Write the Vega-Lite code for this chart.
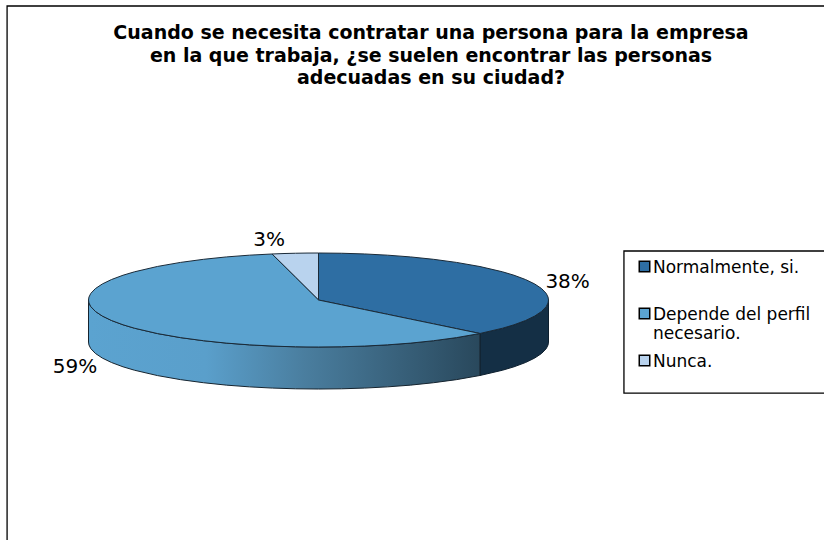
{
"$schema":"https://vega.github.io/schema/vega-lite/v6.json",
"width":824,"height":540,"padding":0,"autosize":{"type":"none"},"background":"white",
"title":{"text":["Cuando se necesita contratar una persona para la empresa","en la que trabaja, ¿se suelen encontrar las personas","adecuadas en su ciudad?"],"frame":"group","anchor":"middle","dx":19,"dy":88,"font":"DejaVu Sans","fontSize":19,"fontWeight":"bold","color":"black","lineHeight":22.5,"offset":0},
"config":{"view":{"stroke":null}},
"datasets":{
"top":[
{"part":"Normalmente, si.","u":0,"v":1,"v2":0},{"part":"Normalmente, si.","u":0.1,"v":0.995,"v2":-0.101},{"part":"Normalmente, si.","u":0.2,"v":0.98,"v2":-0.203},{"part":"Normalmente, si.","u":0.3,"v":0.954,"v2":-0.304},{"part":"Normalmente, si.","u":0.4,"v":0.917,"v2":-0.406},{"part":"Normalmente, si.","u":0.5,"v":0.866,"v2":-0.507},{"part":"Normalmente, si.","u":0.6,"v":0.8,"v2":-0.609},{"part":"Normalmente, si.","u":0.702,"v":0.712,"v2":-0.712},{"part":"Normalmente, si.","u":0.8,"v":0.6,"v2":-0.6},{"part":"Normalmente, si.","u":0.85,"v":0.527,"v2":-0.527},{"part":"Normalmente, si.","u":0.9,"v":0.436,"v2":-0.436},{"part":"Normalmente, si.","u":0.94,"v":0.341,"v2":-0.341},{"part":"Normalmente, si.","u":0.97,"v":0.243,"v2":-0.243},{"part":"Normalmente, si.","u":0.99,"v":0.141,"v2":-0.141},{"part":"Normalmente, si.","u":0.998,"v":0.063,"v2":-0.063},{"part":"Normalmente, si.","u":1,"v":0,"v2":0},
{"part":"Nunca.","u":-0.202,"v":0.979,"v2":0.979},{"part":"Nunca.","u":-0.15,"v":0.989,"v2":0.727},{"part":"Nunca.","u":-0.1,"v":0.995,"v2":0.485},{"part":"Nunca.","u":-0.05,"v":0.999,"v2":0.242},{"part":"Nunca.","u":0,"v":1,"v2":0},
{"part":"Depende del perfil necesario.","u":-1,"v":0,"v2":0},{"part":"Depende del perfil necesario.","u":-0.998,"v":0.063,"v2":-0.063},{"part":"Depende del perfil necesario.","u":-0.99,"v":0.141,"v2":-0.141},{"part":"Depende del perfil necesario.","u":-0.97,"v":0.243,"v2":-0.243},{"part":"Depende del perfil necesario.","u":-0.94,"v":0.341,"v2":-0.341},{"part":"Depende del perfil necesario.","u":-0.9,"v":0.436,"v2":-0.436},{"part":"Depende del perfil necesario.","u":-0.85,"v":0.527,"v2":-0.527},{"part":"Depende del perfil necesario.","u":-0.8,"v":0.6,"v2":-0.6},{"part":"Depende del perfil necesario.","u":-0.7,"v":0.714,"v2":-0.714},{"part":"Depende del perfil necesario.","u":-0.6,"v":0.8,"v2":-0.8},{"part":"Depende del perfil necesario.","u":-0.5,"v":0.866,"v2":-0.866},{"part":"Depende del perfil necesario.","u":-0.4,"v":0.917,"v2":-0.917},{"part":"Depende del perfil necesario.","u":-0.3,"v":0.954,"v2":-0.954},{"part":"Depende del perfil necesario.","u":-0.202,"v":0.979,"v2":-0.979},{"part":"Depende del perfil necesario.","u":-0.15,"v":0.727,"v2":-0.989},{"part":"Depende del perfil necesario.","u":-0.1,"v":0.485,"v2":-0.995},{"part":"Depende del perfil necesario.","u":-0.05,"v":0.242,"v2":-0.999},{"part":"Depende del perfil necesario.","u":0,"v":0,"v2":-1},{"part":"Depende del perfil necesario.","u":0.1,"v":-0.101,"v2":-0.995},{"part":"Depende del perfil necesario.","u":0.2,"v":-0.203,"v2":-0.98},{"part":"Depende del perfil necesario.","u":0.3,"v":-0.304,"v2":-0.954},{"part":"Depende del perfil necesario.","u":0.4,"v":-0.406,"v2":-0.917},{"part":"Depende del perfil necesario.","u":0.5,"v":-0.507,"v2":-0.866},{"part":"Depende del perfil necesario.","u":0.6,"v":-0.609,"v2":-0.8},{"part":"Depende del perfil necesario.","u":0.702,"v":-0.712,"v2":-0.712}
],
"sideMid":[
{"u":-1,"v":0,"v2":-0.894},{"u":-0.998,"v":-0.063,"v2":-0.957},{"u":-0.99,"v":-0.141,"v2":-1.035},{"u":-0.97,"v":-0.243,"v2":-1.137},{"u":-0.94,"v":-0.341,"v2":-1.235},{"u":-0.9,"v":-0.436,"v2":-1.33},{"u":-0.85,"v":-0.527,"v2":-1.421},{"u":-0.8,"v":-0.6,"v2":-1.494},{"u":-0.7,"v":-0.714,"v2":-1.608},{"u":-0.6,"v":-0.8,"v2":-1.694},{"u":-0.5,"v":-0.866,"v2":-1.76},{"u":-0.4,"v":-0.917,"v2":-1.811},{"u":-0.3,"v":-0.954,"v2":-1.848},{"u":-0.2,"v":-0.98,"v2":-1.874},{"u":-0.1,"v":-0.995,"v2":-1.889},{"u":0,"v":-1,"v2":-1.894},{"u":0.1,"v":-0.995,"v2":-1.889},{"u":0.2,"v":-0.98,"v2":-1.874},{"u":0.3,"v":-0.954,"v2":-1.848},{"u":0.4,"v":-0.917,"v2":-1.811},{"u":0.5,"v":-0.866,"v2":-1.76},{"u":0.6,"v":-0.8,"v2":-1.694},{"u":0.702,"v":-0.712,"v2":-1.606}
],
"sideDark":[
{"u":0.702,"v":-0.712,"v2":-1.606},{"u":0.8,"v":-0.6,"v2":-1.494},{"u":0.85,"v":-0.527,"v2":-1.421},{"u":0.9,"v":-0.436,"v2":-1.33},{"u":0.94,"v":-0.341,"v2":-1.235},{"u":0.97,"v":-0.243,"v2":-1.137},{"u":0.99,"v":-0.141,"v2":-1.035},{"u":0.998,"v":-0.063,"v2":-0.957},{"u":1,"v":0,"v2":-0.894}
],
"labels":[{"t":"38%","u":1.083,"v":0.383},{"t":"59%","u":-1.059,"v":-1.43},{"t":"3%","u":-0.215,"v":1.277}],
"frame":[{"i":1,"u":-1.354,"v":-5.106},{"i":2,"u":-1.354,"v":6.255},{"i":3,"u":2.198,"v":6.255}],
"box":[{"u":1.328,"u2":2.25,"v":1.043,"v2":-1.979}]
},
"layer":[
{"data":{"name":"frame"},"mark":{"type":"line","color":"black","strokeWidth":1.3,"clip":false},
 "encoding":{"x":{"field":"u","type":"quantitative","scale":{"domain":[-1.3848,2.1978],"nice":false,"zero":false},"axis":null},"y":{"field":"v","type":"quantitative","scale":{"domain":[-5.106,6.383],"nice":false,"zero":false},"axis":null},"order":{"field":"i"}}},
{"data":{"name":"box"},"mark":{"type":"rect","fill":"white","stroke":"black","strokeWidth":1.3},
 "encoding":{"x":{"field":"u","type":"quantitative"},"x2":{"field":"u2"},"y":{"field":"v","type":"quantitative"},"y2":{"field":"v2"}}},
{"data":{"name":"sideDark"},"mark":{"type":"area","orient":"vertical","color":"#142F45","stroke":"#0d1f2e","strokeWidth":1},
 "encoding":{"x":{"field":"u","type":"quantitative"},"y":{"field":"v","type":"quantitative"},"y2":{"field":"v2"}}},
{"data":{"name":"sideMid"},"mark":{"type":"area","orient":"vertical","stroke":"#16242f","strokeWidth":1,"fill":{"x1":0,"y1":0,"x2":1,"y2":0,"gradient":"linear","stops":[{"offset":0,"color":"#5BA3D0"},{"offset":0.3,"color":"#5A9FCB"},{"offset":0.55,"color":"#4A7E9F"},{"offset":1,"color":"#29485C"}]}},
 "encoding":{"x":{"field":"u","type":"quantitative"},"y":{"field":"v","type":"quantitative"},"y2":{"field":"v2"}}},
{"data":{"name":"top"},"mark":{"type":"area","orient":"vertical","stroke":"#1a2a38","strokeWidth":1},
 "encoding":{"x":{"field":"u","type":"quantitative"},"y":{"field":"v","type":"quantitative","stack":null},"y2":{"field":"v2"},
  "color":{"field":"part","type":"nominal","scale":{"domain":["Normalmente, si.","Depende del perfil necesario.","Nunca."],"range":["#2E6EA3","#5BA3D0","#B9D3EE"]},
  "legend":{"title":null,"orient":"none","legendX":636,"legendY":258,"padding":0,"symbolType":"square","symbolSize":110,"symbolStrokeColor":"black","symbolStrokeWidth":1.5,"symbolOpacity":1,"labelFont":"DejaVu Sans","labelFontSize":17,"labelColor":"black","labelBaseline":"top","labelOffset":0,"labelLimit":200,"rowPadding":10,
  "encoding":{"labels":{"dy":{"value":-7}}},
  "labelExpr":"datum.label == 'Depende del perfil necesario.' ? ['Depende del perfil','necesario.'] : [datum.label,' ']"}}}},
{"data":{"name":"labels"},"mark":{"type":"text","font":"DejaVu Sans","fontSize":20,"color":"black"},
 "encoding":{"x":{"field":"u","type":"quantitative"},"y":{"field":"v","type":"quantitative"},"text":{"field":"t"}}}
]
}
